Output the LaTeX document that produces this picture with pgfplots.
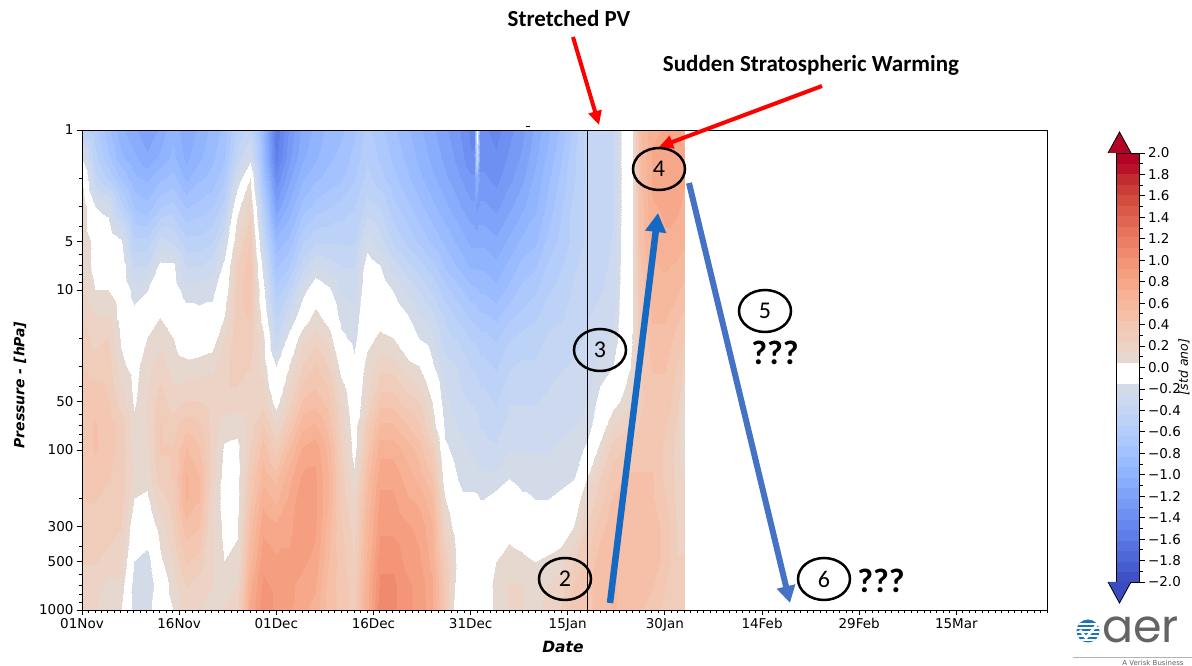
\documentclass[border=0pt]{standalone}
\usepackage{pgfplots}
\pgfplotsset{compat=1.18}
\usepackage{fontspec}
\setmainfont{DejaVu Sans}
\newfontfamily\calfont{Carlito}
\newfontfamily\popfont{Poppins}
\usetikzlibrary{arrows.meta}
\definecolor{upblue}{RGB}{21,105,195}
\definecolor{dnblue}{RGB}{68,114,196}
\definecolor{cbtop}{RGB}{180,4,38}
\definecolor{cbbot}{RGB}{59,76,192}
\definecolor{logoblue}{RGB}{30,115,185}
\definecolor{aergray}{RGB}{100,100,100}
\begin{document}
\begin{tikzpicture}[x=1pt,y=1pt]
\useasboundingbox (0,0) rectangle (1192,666);
\begin{axis}[
  at={(82pt,56pt)}, anchor=south west,
  width=965pt, height=480pt, scale only axis,
  xmin=0, xmax=149, ymin=1, ymax=1000,
  ymode=log, y dir=reverse,
  axis on top,
  xtick={0,15,30,45,60,75,90,105,120,135},
  xticklabels={01Nov,16Nov,01Dec,16Dec,31Dec,15Jan,30Jan,14Feb,29Feb,15Mar},
  minor xtick={0,1,...,149},
  ytick={1,5,10,50,100,300,500,1000},
  yticklabels={1,5,10,50,100,300,500,1000},
  minor ytick={2,3,4,6,7,8,9,20,30,40,60,70,80,90,200,400,600,700,800,900},
  tick pos=left, tick align=outside,
  major tick length=5pt, minor tick length=3pt,
  tick style={black, line width=0.9pt},
  axis line style={line width=0.9pt},
  ticklabel style={font=\fontsize{13.5}{15}\selectfont},
  colormap={cw}{rgb255=(63,82,197) rgb255=(70,93,206) rgb255=(77,104,215) rgb255=(85,114,223) rgb255=(94,125,230) rgb255=(102,135,237) rgb255=(110,144,242) rgb255=(119,154,247) rgb255=(128,163,250) rgb255=(137,172,253) rgb255=(145,180,254) rgb255=(154,187,255) rgb255=(163,194,255) rgb255=(172,200,253) rgb255=(180,205,251) rgb255=(188,210,247) rgb255=(196,214,243) rgb255=(204,217,238) rgb255=(211,219,232) rgb255=(255,255,255) rgb255=(255,255,255) rgb255=(230,215,207) rgb255=(236,211,197) rgb255=(240,205,187) rgb255=(243,199,178) rgb255=(246,192,168) rgb255=(247,185,158) rgb255=(247,177,148) rgb255=(247,168,138) rgb255=(245,159,128) rgb255=(243,149,118) rgb255=(240,138,109) rgb255=(236,127,99) rgb255=(230,115,90) rgb255=(225,102,81) rgb255=(218,90,73) rgb255=(211,76,64) rgb255=(203,62,56) rgb255=(194,44,49) rgb255=(185,18,42) rgb255=(180,4,38)},
  colormap access=piecewise constant,
  point meta min=-2, point meta max=2,
  colorbar,
  colorbar style={
    at={(parent axis.north east)}, anchor=north west,
    xshift=61pt, yshift=-23pt,
    width=23pt, height=429pt, scale only axis,
    y dir=normal,
    xtick=\empty,
    ytick={-2,-1.8,-1.6,-1.4,-1.2,-1,-0.8,-0.6,-0.4,-0.2,0,0.2,0.4,0.6,0.8,1,1.2,1.4,1.6,1.8,2},
    yticklabels={−2.0,−1.8,−1.6,−1.4,−1.2,−1.0,−0.8,−0.6,−0.4,−0.2,0.0,0.2,0.4,0.6,0.8,1.0,1.2,1.4,1.6,1.8,2.0},
    minor ytick={-1.9,-1.7,-1.5,-1.3,-1.1,-0.9,-0.7,-0.5,-0.3,-0.1,0.1,0.3,0.5,0.7,0.9,1.1,1.3,1.5,1.7,1.9},
    ytick pos=right, yticklabel pos=right,
    tick align=outside, major tick length=5pt, minor tick length=3pt,
    tick style={black, line width=0.8pt},
    axis line style={line width=0.8pt},
    yticklabel style={font=\fontsize{13.5}{15}\selectfont},
  },
]
\addplot[surf, shader=interp, mesh/ordering=y varies, mesh/rows=19, mesh/cols=52, point meta=explicit] coordinates {
(0,1)[-0.5] (0,1.5)[-0.15] (0,2)[0.05] (0,3)[0.15] (0,5)[0.15] (0,7)[0.15] (0,10)[0.18] (0,15)[0.25] (0,20)[0.3] (0,30)[0.35] (0,50)[0.4] (0,70)[0.4] (0,100)[0.4] (0,150)[0.35] (0,200)[0.35] (0,300)[0.3] (0,500)[0.25] (0,700)[0.2] (0,1000)[0.15]
(2,1)[-0.6] (2,1.5)[-0.5] (2,2)[-0.4] (2,3)[-0.15] (2,5)[0] (2,7)[0] (2,10)[0.05] (2,15)[0.15] (2,20)[0.2] (2,30)[0.3] (2,50)[0.4] (2,70)[0.45] (2,100)[0.45] (2,150)[0.4] (2,200)[0.35] (2,300)[0.3] (2,500)[0.25] (2,700)[0.2] (2,1000)[0.15]
(4,1)[-0.8] (4,1.5)[-0.7] (4,2)[-0.55] (4,3)[-0.2] (4,5)[-0.02] (4,7)[0] (4,10)[0.05] (4,15)[0.15] (4,20)[0.25] (4,30)[0.3] (4,50)[0.35] (4,70)[0.4] (4,100)[0.4] (4,150)[0.35] (4,200)[0.3] (4,300)[0.3] (4,500)[0.2] (4,700)[0.12] (4,1000)[0.05]
(6,1)[-1.0] (6,1.5)[-0.9] (6,2)[-0.75] (6,3)[-0.5] (6,5)[-0.12] (6,7)[-0.05] (6,10)[-0.02] (6,15)[0] (6,20)[0.03] (6,30)[0.08] (6,50)[0.2] (6,70)[0.3] (6,100)[0.3] (6,150)[0.3] (6,200)[0.3] (6,300)[0.25] (6,500)[0.2] (6,700)[0.12] (6,1000)[0.05]
(8,1)[-1.1] (8,1.5)[-1.0] (8,2)[-0.9] (8,3)[-0.75] (8,5)[-0.5] (8,7)[-0.35] (8,10)[-0.2] (8,15)[-0.1] (8,20)[-0.05] (8,30)[0] (8,50)[0.03] (8,70)[0.08] (8,100)[0.12] (8,150)[0.12] (8,200)[0.05] (8,300)[-0.05] (8,500)[-0.15] (8,700)[-0.2] (8,1000)[-0.2]
(10,1)[-1.2] (10,1.5)[-1.1] (10,2)[-0.95] (10,3)[-0.8] (10,5)[-0.5] (10,7)[-0.35] (10,10)[-0.15] (10,15)[-0.05] (10,20)[0.05] (10,30)[0.12] (10,50)[0.15] (10,70)[0.15] (10,100)[0.12] (10,150)[0.08] (10,200)[0.03] (10,300)[-0.05] (10,500)[-0.2] (10,700)[-0.25] (10,1000)[-0.2]
(12,1)[-1.1] (12,1.5)[-1.0] (12,2)[-0.85] (12,3)[-0.65] (12,5)[-0.3] (12,7)[-0.12] (12,10)[-0.02] (12,15)[0.05] (12,20)[0.1] (12,30)[0.2] (12,50)[0.3] (12,70)[0.35] (12,100)[0.35] (12,150)[0.3] (12,200)[0.2] (12,300)[0.1] (12,500)[0.02] (12,700)[-0.05] (12,1000)[-0.05]
(14,1)[-0.95] (14,1.5)[-0.9] (14,2)[-0.8] (14,3)[-0.6] (14,5)[-0.35] (14,7)[-0.12] (14,10)[-0.08] (14,15)[0] (14,20)[0.05] (14,30)[0.1] (14,50)[0.2] (14,70)[0.3] (14,100)[0.35] (14,150)[0.35] (14,200)[0.3] (14,300)[0.25] (14,500)[0.15] (14,700)[0.1] (14,1000)[0.05]
(16,1)[-1.1] (16,1.5)[-1.05] (16,2)[-0.95] (16,3)[-0.75] (16,5)[-0.5] (16,7)[-0.35] (16,10)[-0.2] (16,15)[-0.08] (16,20)[-0.03] (16,30)[0.08] (16,50)[0.25] (16,70)[0.4] (16,100)[0.55] (16,150)[0.65] (16,200)[0.65] (16,300)[0.5] (16,500)[0.35] (16,700)[0.25] (16,1000)[0.2]
(18,1)[-1.0] (18,1.5)[-0.95] (18,2)[-0.85] (18,3)[-0.7] (18,5)[-0.5] (18,7)[-0.35] (18,10)[-0.2] (18,15)[-0.1] (18,20)[-0.05] (18,30)[0.1] (18,50)[0.25] (18,70)[0.35] (18,100)[0.45] (18,150)[0.55] (18,200)[0.55] (18,300)[0.45] (18,500)[0.3] (18,700)[0.2] (18,1000)[0.15]
(20,1)[-0.9] (20,1.5)[-0.85] (20,2)[-0.8] (20,3)[-0.65] (20,5)[-0.45] (20,7)[-0.3] (20,10)[-0.18] (20,15)[-0.1] (20,20)[-0.02] (20,30)[0.12] (20,50)[0.2] (20,70)[0.2] (20,100)[0.2] (20,150)[0.2] (20,200)[0.15] (20,300)[0.15] (20,500)[0.15] (20,700)[0.15] (20,1000)[0.12]
(22,1)[-0.8] (22,1.5)[-0.75] (22,2)[-0.65] (22,3)[-0.5] (22,5)[-0.25] (22,7)[-0.12] (22,10)[-0.05] (22,15)[0.05] (22,20)[0.15] (22,30)[0.2] (22,50)[0.2] (22,70)[0.1] (22,100)[0.03] (22,150)[0] (22,200)[0] (22,300)[0.02] (22,500)[0.05] (22,700)[0.12] (22,1000)[0.15]
(24,1)[-0.5] (24,1.5)[-0.4] (24,2)[-0.25] (24,3)[0] (24,5)[0.15] (24,7)[0.25] (24,10)[0.3] (24,15)[0.3] (24,20)[0.3] (24,30)[0.3] (24,50)[0.2] (24,70)[0.08] (24,100)[0.02] (24,150)[0] (24,200)[0] (24,300)[0.03] (24,500)[0.08] (24,700)[0.15] (24,1000)[0.2]
(26,1)[-0.4] (26,1.5)[-0.2] (26,2)[0.05] (26,3)[0.2] (26,5)[0.35] (26,7)[0.4] (26,10)[0.4] (26,15)[0.35] (26,20)[0.3] (26,30)[0.25] (26,50)[0.2] (26,70)[0.2] (26,100)[0.25] (26,150)[0.35] (26,200)[0.4] (26,300)[0.5] (26,500)[0.6] (26,700)[0.7] (26,1000)[0.75]
(28,1)[-0.9] (28,1.5)[-0.85] (28,2)[-0.75] (28,3)[-0.55] (28,5)[-0.35] (28,7)[-0.2] (28,10)[-0.1] (28,15)[0] (28,20)[0.08] (28,30)[0.12] (28,50)[0.2] (28,70)[0.35] (28,100)[0.5] (28,150)[0.6] (28,200)[0.7] (28,300)[0.8] (28,500)[0.9] (28,700)[0.95] (28,1000)[1.0]
(30,1)[-1.6] (30,1.5)[-1.55] (30,2)[-1.4] (30,3)[-1.2] (30,5)[-0.9] (30,7)[-0.75] (30,10)[-0.6] (30,15)[-0.45] (30,20)[-0.35] (30,30)[-0.15] (30,50)[0] (30,70)[0.15] (30,100)[0.3] (30,150)[0.5] (30,200)[0.6] (30,300)[0.75] (30,500)[0.85] (30,700)[0.9] (30,1000)[0.9]
(32,1)[-1.3] (32,1.5)[-1.25] (32,2)[-1.15] (32,3)[-1.0] (32,5)[-0.8] (32,7)[-0.65] (32,10)[-0.45] (32,15)[-0.25] (32,20)[-0.1] (32,30)[0.05] (32,50)[0.2] (32,70)[0.35] (32,100)[0.55] (32,150)[0.7] (32,200)[0.75] (32,300)[0.8] (32,500)[0.85] (32,700)[0.85] (32,1000)[0.85]
(34,1)[-1.1] (34,1.5)[-1.05] (34,2)[-0.95] (34,3)[-0.8] (34,5)[-0.55] (34,7)[-0.4] (34,10)[-0.2] (34,15)[-0.05] (34,20)[0.12] (34,30)[0.25] (34,50)[0.45] (34,70)[0.6] (34,100)[0.75] (34,150)[0.85] (34,200)[0.9] (34,300)[0.9] (34,500)[0.85] (34,700)[0.8] (34,1000)[0.75]
(36,1)[-1.0] (36,1.5)[-0.95] (36,2)[-0.85] (36,3)[-0.7] (36,5)[-0.45] (36,7)[-0.25] (36,10)[-0.05] (36,15)[0.1] (36,20)[0.2] (36,30)[0.35] (36,50)[0.5] (36,70)[0.65] (36,100)[0.8] (36,150)[0.85] (36,200)[0.85] (36,300)[0.85] (36,500)[0.8] (36,700)[0.75] (36,1000)[0.7]
(38,1)[-0.9] (38,1.5)[-0.85] (38,2)[-0.8] (38,3)[-0.65] (38,5)[-0.45] (38,7)[-0.3] (38,10)[-0.12] (38,15)[0] (38,20)[0.12] (38,30)[0.25] (38,50)[0.4] (38,70)[0.5] (38,100)[0.6] (38,150)[0.65] (38,200)[0.65] (38,300)[0.6] (38,500)[0.55] (38,700)[0.5] (38,1000)[0.5]
(40,1)[-0.85] (40,1.5)[-0.8] (40,2)[-0.75] (40,3)[-0.6] (40,5)[-0.45] (40,7)[-0.35] (40,10)[-0.25] (40,15)[-0.18] (40,20)[-0.12] (40,30)[0] (40,50)[0.15] (40,70)[0.2] (40,100)[0.25] (40,150)[0.3] (40,200)[0.3] (40,300)[0.35] (40,500)[0.4] (40,700)[0.4] (40,1000)[0.4]
(42,1)[-0.75] (42,1.5)[-0.7] (42,2)[-0.65] (42,3)[-0.55] (42,5)[-0.45] (42,7)[-0.35] (42,10)[-0.28] (42,15)[-0.22] (42,20)[-0.18] (42,30)[-0.12] (42,50)[-0.05] (42,70)[-0.02] (42,100)[0] (42,150)[0.08] (42,200)[0.15] (42,300)[0.2] (42,500)[0.25] (42,700)[0.3] (42,1000)[0.3]
(44,1)[-0.6] (44,1.5)[-0.55] (44,2)[-0.5] (44,3)[-0.4] (44,5)[-0.2] (44,7)[-0.08] (44,10)[-0.05] (44,15)[-0.02] (44,20)[0] (44,30)[0.1] (44,50)[0.15] (44,70)[0.3] (44,100)[0.4] (44,150)[0.5] (44,200)[0.55] (44,300)[0.6] (44,500)[0.65] (44,700)[0.7] (44,1000)[0.7]
(46,1)[-0.7] (46,1.5)[-0.65] (46,2)[-0.6] (46,3)[-0.45] (46,5)[-0.3] (46,7)[-0.15] (46,10)[-0.05] (46,15)[0] (46,20)[0.08] (46,30)[0.2] (46,50)[0.4] (46,70)[0.55] (46,100)[0.7] (46,150)[0.8] (46,200)[0.85] (46,300)[0.9] (46,500)[1.0] (46,700)[1.05] (46,1000)[1.1]
(48,1)[-0.8] (48,1.5)[-0.75] (48,2)[-0.7] (48,3)[-0.6] (48,5)[-0.45] (48,7)[-0.3] (48,10)[-0.15] (48,15)[-0.05] (48,20)[0.05] (48,30)[0.2] (48,50)[0.4] (48,70)[0.55] (48,100)[0.7] (48,150)[0.8] (48,200)[0.85] (48,300)[0.9] (48,500)[1.0] (48,700)[1.05] (48,1000)[1.05]
(50,1)[-0.9] (50,1.5)[-0.85] (50,2)[-0.8] (50,3)[-0.7] (50,5)[-0.55] (50,7)[-0.4] (50,10)[-0.25] (50,15)[-0.12] (50,20)[-0.05] (50,30)[0.1] (50,50)[0.3] (50,70)[0.45] (50,100)[0.6] (50,150)[0.7] (50,200)[0.75] (50,300)[0.85] (50,500)[0.9] (50,700)[0.95] (50,1000)[0.95]
(52,1)[-1.0] (52,1.5)[-0.95] (52,2)[-0.9] (52,3)[-0.8] (52,5)[-0.65] (52,7)[-0.5] (52,10)[-0.35] (52,15)[-0.22] (52,20)[-0.15] (52,30)[0.05] (52,50)[0.25] (52,70)[0.35] (52,100)[0.5] (52,150)[0.6] (52,200)[0.7] (52,300)[0.8] (52,500)[0.85] (52,700)[0.9] (52,1000)[0.9]
(54,1)[-1.1] (54,1.5)[-1.05] (54,2)[-1.0] (54,3)[-0.9] (54,5)[-0.75] (54,7)[-0.6] (54,10)[-0.45] (54,15)[-0.3] (54,20)[-0.22] (54,30)[-0.12] (54,50)[0.05] (54,70)[0.12] (54,100)[0.3] (54,150)[0.45] (54,200)[0.55] (54,300)[0.65] (54,500)[0.7] (54,700)[0.75] (54,1000)[0.75]
(56,1)[-1.2] (56,1.5)[-1.15] (56,2)[-1.1] (56,3)[-1.0] (56,5)[-0.85] (56,7)[-0.75] (56,10)[-0.6] (56,15)[-0.45] (56,20)[-0.4] (56,30)[-0.3] (56,50)[-0.22] (56,70)[-0.18] (56,100)[-0.12] (56,150)[-0.05] (56,200)[0.05] (56,300)[0.15] (56,500)[0.3] (56,700)[0.35] (56,1000)[0.35]
(58,1)[-1.3] (58,1.5)[-1.25] (58,2)[-1.2] (58,3)[-1.1] (58,5)[-0.95] (58,7)[-0.85] (58,10)[-0.7] (58,15)[-0.55] (58,20)[-0.45] (58,30)[-0.35] (58,50)[-0.3] (58,70)[-0.25] (58,100)[-0.2] (58,150)[-0.15] (58,200)[-0.12] (58,300)[-0.05] (58,500)[0] (58,700)[-0.05] (58,1000)[-0.15]
(60,1)[-1.45] (60,1.5)[-1.4] (60,2)[-1.3] (60,3)[-1.2] (60,5)[-1.05] (60,7)[-0.95] (60,10)[-0.8] (60,15)[-0.65] (60,20)[-0.55] (60,30)[-0.45] (60,50)[-0.35] (60,70)[-0.3] (60,100)[-0.25] (60,150)[-0.2] (60,200)[-0.12] (60,300)[-0.05] (60,500)[0] (60,700)[-0.05] (60,1000)[-0.12]
(60.6,1)[-1.45] (60.6,1.5)[-1.4] (60.6,2)[-1.3] (60.6,3)[-1.2] (60.6,5)[-1.05] (60.6,7)[-0.95] (60.6,10)[-0.8] (60.6,15)[-0.65] (60.6,20)[-0.55] (60.6,30)[-0.45] (60.6,50)[-0.35] (60.6,70)[-0.3] (60.6,100)[-0.25] (60.6,150)[-0.2] (60.6,200)[-0.12] (60.6,300)[-0.05] (60.6,500)[0] (60.6,700)[-0.05] (60.6,1000)[-0.12]
(61,1)[0] (61,1.5)[-0.3] (61,2)[-1.0] (61,3)[-1.25] (61,5)[-1.05] (61,7)[-0.95] (61,10)[-0.82] (61,15)[-0.68] (61,20)[-0.57] (61,30)[-0.47] (61,50)[-0.37] (61,70)[-0.32] (61,100)[-0.27] (61,150)[-0.21] (61,200)[-0.13] (61,300)[-0.05] (61,500)[0] (61,700)[-0.06] (61,1000)[-0.12]
(61.4,1)[-1.4] (61.4,1.5)[-1.35] (61.4,2)[-1.3] (61.4,3)[-1.2] (61.4,5)[-1.05] (61.4,7)[-0.95] (61.4,10)[-0.85] (61.4,15)[-0.7] (61.4,20)[-0.6] (61.4,30)[-0.5] (61.4,50)[-0.4] (61.4,70)[-0.35] (61.4,100)[-0.3] (61.4,150)[-0.22] (61.4,200)[-0.15] (61.4,300)[-0.05] (61.4,500)[-0.02] (61.4,700)[-0.08] (61.4,1000)[-0.12]
(62,1)[-1.4] (62,1.5)[-1.35] (62,2)[-1.3] (62,3)[-1.2] (62,5)[-1.05] (62,7)[-0.95] (62,10)[-0.85] (62,15)[-0.7] (62,20)[-0.6] (62,30)[-0.5] (62,50)[-0.4] (62,70)[-0.35] (62,100)[-0.3] (62,150)[-0.22] (62,200)[-0.15] (62,300)[-0.05] (62,500)[-0.02] (62,700)[-0.08] (62,1000)[-0.12]
(64,1)[-1.45] (64,1.5)[-1.4] (64,2)[-1.35] (64,3)[-1.25] (64,5)[-1.1] (64,7)[-1.0] (64,10)[-0.9] (64,15)[-0.75] (64,20)[-0.65] (64,30)[-0.55] (64,50)[-0.45] (64,70)[-0.4] (64,100)[-0.32] (64,150)[-0.22] (64,200)[-0.1] (64,300)[-0.02] (64,500)[0.05] (64,700)[0.12] (64,1000)[0.12]
(66,1)[-1.35] (66,1.5)[-1.3] (66,2)[-1.25] (66,3)[-1.15] (66,5)[-1.0] (66,7)[-0.9] (66,10)[-0.8] (66,15)[-0.65] (66,20)[-0.55] (66,30)[-0.45] (66,50)[-0.35] (66,70)[-0.3] (66,100)[-0.25] (66,150)[-0.15] (66,200)[-0.05] (66,300)[0] (66,500)[0.1] (66,700)[0.15] (66,1000)[0.15]
(68,1)[-1.25] (68,1.5)[-1.2] (68,2)[-1.15] (68,3)[-1.05] (68,5)[-0.9] (68,7)[-0.8] (68,10)[-0.7] (68,15)[-0.6] (68,20)[-0.5] (68,30)[-0.42] (68,50)[-0.35] (68,70)[-0.3] (68,100)[-0.25] (68,150)[-0.2] (68,200)[-0.12] (68,300)[-0.03] (68,500)[0.08] (68,700)[0.15] (68,1000)[0.15]
(70,1)[-1.1] (70,1.5)[-1.05] (70,2)[-1.0] (70,3)[-0.95] (70,5)[-0.85] (70,7)[-0.75] (70,10)[-0.65] (70,15)[-0.55] (70,20)[-0.5] (70,30)[-0.42] (70,50)[-0.35] (70,70)[-0.3] (70,100)[-0.25] (70,150)[-0.2] (70,200)[-0.15] (70,300)[-0.08] (70,500)[0.05] (70,700)[0.12] (70,1000)[0.12]
(72,1)[-0.95] (72,1.5)[-0.9] (72,2)[-0.85] (72,3)[-0.8] (72,5)[-0.7] (72,7)[-0.62] (72,10)[-0.55] (72,15)[-0.48] (72,20)[-0.42] (72,30)[-0.38] (72,50)[-0.32] (72,70)[-0.28] (72,100)[-0.25] (72,150)[-0.2] (72,200)[-0.15] (72,300)[-0.08] (72,500)[0.08] (72,700)[0.15] (72,1000)[0.2]
(74,1)[-0.8] (74,1.5)[-0.75] (74,2)[-0.7] (74,3)[-0.65] (74,5)[-0.6] (74,7)[-0.55] (74,10)[-0.5] (74,15)[-0.45] (74,20)[-0.4] (74,30)[-0.35] (74,50)[-0.3] (74,70)[-0.27] (74,100)[-0.22] (74,150)[-0.18] (74,200)[-0.12] (74,300)[-0.05] (74,500)[0.12] (74,700)[0.2] (74,1000)[0.25]
(76,1)[-0.6] (76,1.5)[-0.55] (76,2)[-0.55] (76,3)[-0.5] (76,5)[-0.5] (76,7)[-0.45] (76,10)[-0.42] (76,15)[-0.4] (76,20)[-0.37] (76,30)[-0.33] (76,50)[-0.28] (76,70)[-0.25] (76,100)[-0.2] (76,150)[-0.15] (76,200)[-0.05] (76,300)[0.05] (76,500)[0.25] (76,700)[0.35] (76,1000)[0.4]
(78,1)[-0.4] (78,1.5)[-0.4] (78,2)[-0.42] (78,3)[-0.42] (78,5)[-0.42] (78,7)[-0.4] (78,10)[-0.38] (78,15)[-0.35] (78,20)[-0.33] (78,30)[-0.3] (78,50)[-0.25] (78,70)[-0.2] (78,100)[-0.12] (78,150)[0.05] (78,200)[0.15] (78,300)[0.25] (78,500)[0.35] (78,700)[0.4] (78,1000)[0.4]
(80,1)[-0.4] (80,1.5)[-0.42] (80,2)[-0.42] (80,3)[-0.42] (80,5)[-0.4] (80,7)[-0.38] (80,10)[-0.35] (80,15)[-0.3] (80,20)[-0.28] (80,30)[-0.2] (80,50)[-0.1] (80,70)[-0.05] (80,100)[0.1] (80,150)[0.25] (80,200)[0.3] (80,300)[0.4] (80,500)[0.5] (80,700)[0.5] (80,1000)[0.5]
(82,1)[-0.35] (82,1.5)[-0.35] (82,2)[-0.35] (82,3)[-0.35] (82,5)[-0.33] (82,7)[-0.32] (82,10)[-0.3] (82,15)[-0.27] (82,20)[-0.23] (82,30)[-0.15] (82,50)[0] (82,70)[0.15] (82,100)[0.3] (82,150)[0.4] (82,200)[0.45] (82,300)[0.5] (82,500)[0.55] (82,700)[0.55] (82,1000)[0.55]
(84,1)[-0.02] (84,1.5)[-0.02] (84,2)[-0.02] (84,3)[-0.02] (84,5)[-0.02] (84,7)[-0.01] (84,10)[0] (84,15)[0] (84,20)[0] (84,30)[0] (84,50)[0.1] (84,70)[0.22] (84,100)[0.35] (84,150)[0.45] (84,200)[0.5] (84,300)[0.5] (84,500)[0.5] (84,700)[0.5] (84,1000)[0.5]
(85,1)[0.05] (85,1.5)[0.05] (85,2)[0.05] (85,3)[0.05] (85,5)[0.05] (85,7)[0.05] (85,10)[0.05] (85,15)[0.05] (85,20)[0.06] (85,30)[0.08] (85,50)[0.15] (85,70)[0.25] (85,100)[0.4] (85,150)[0.45] (85,200)[0.5] (85,300)[0.5] (85,500)[0.5] (85,700)[0.5] (85,1000)[0.5]
(86,1)[0.5] (86,1.5)[0.5] (86,2)[0.5] (86,3)[0.45] (86,5)[0.45] (86,7)[0.4] (86,10)[0.35] (86,15)[0.32] (86,20)[0.3] (86,30)[0.3] (86,50)[0.3] (86,70)[0.35] (86,100)[0.4] (86,150)[0.45] (86,200)[0.5] (86,300)[0.5] (86,500)[0.5] (86,700)[0.5] (86,1000)[0.45]
(88,1)[0.7] (88,1.5)[0.75] (88,2)[0.75] (88,3)[0.72] (88,5)[0.68] (88,7)[0.62] (88,10)[0.58] (88,15)[0.55] (88,20)[0.5] (88,30)[0.45] (88,50)[0.4] (88,70)[0.4] (88,100)[0.4] (88,150)[0.45] (88,200)[0.45] (88,300)[0.5] (88,500)[0.5] (88,700)[0.45] (88,1000)[0.4]
(90,1)[0.75] (90,1.5)[0.8] (90,2)[0.8] (90,3)[0.75] (90,5)[0.72] (90,7)[0.65] (90,10)[0.6] (90,15)[0.55] (90,20)[0.5] (90,30)[0.45] (90,50)[0.4] (90,70)[0.35] (90,100)[0.32] (90,150)[0.32] (90,200)[0.35] (90,300)[0.4] (90,500)[0.4] (90,700)[0.35] (90,1000)[0.3]
(92,1)[0.75] (92,1.5)[0.8] (92,2)[0.8] (92,3)[0.75] (92,5)[0.68] (92,7)[0.62] (92,10)[0.55] (92,15)[0.45] (92,20)[0.4] (92,30)[0.32] (92,50)[0.28] (92,70)[0.22] (92,100)[0.2] (92,150)[0.2] (92,200)[0.2] (92,300)[0.22] (92,500)[0.25] (92,700)[0.25] (92,1000)[0.25]
(93,1)[0.7] (93,1.5)[0.75] (93,2)[0.75] (93,3)[0.7] (93,5)[0.65] (93,7)[0.6] (93,10)[0.5] (93,15)[0.42] (93,20)[0.35] (93,30)[0.22] (93,50)[0.05] (93,70)[0.05] (93,100)[0.05] (93,150)[0.15] (93,200)[0.2] (93,300)[0.22] (93,500)[0.25] (93,700)[0.25] (93,1000)[0.25]
};
\addplot[black, line width=1pt] coordinates {(78,1) (78,1000)};
\end{axis}
% colorbar extensions
\fill[cbtop] (1108,513) -- (1119.5,534) -- (1131,513) -- cycle;
\draw[line width=0.8pt] (1108,513) -- (1119.5,534) -- (1131,513);
\fill[cbbot] (1108,84) -- (1119.5,63) -- (1131,84) -- cycle;
\draw[line width=0.8pt] (1108,84) -- (1119.5,63) -- (1131,84);
\node[rotate=90, font=\itshape\fontsize{12.5}{14}\selectfont] at (1184,299) {[std ano]};
% axis labels
\node[anchor=base, font=\bfseries\itshape\fontsize{15.5}{17}\selectfont] at (563,13) {Date};
\node[rotate=90, font=\bfseries\itshape\fontsize{14}{16}\selectfont] at (20,281) {Pressure - [hPa]};
\draw[line width=0.8pt] (526,540) -- (530,540);
% annotations
\node[anchor=base, font=\calfont\bfseries\fontsize{23}{26}\selectfont] at (569,639) {Stretched PV};
\node[anchor=base, font=\calfont\bfseries\fontsize{23}{26}\selectfont] at (811,594) {Sudden Stratospheric Warming};
\draw[red, line width=4pt, -{Triangle[length=14pt,width=13pt]}] (573,629) -- (599,541);
\draw[red, line width=4pt, -{Triangle[length=14pt,width=13pt]}] (822,580) -- (659,519);
\draw[upblue, line width=6.5pt, -{Triangle[length=19pt,width=20pt]}] (610,63) -- (658,453);
\draw[dnblue, line width=6pt, -{Triangle[length=17pt,width=18pt]}] (689,483) -- (790,63);
\foreach \cx/\cy/\n in {659/497/4, 600/316/3, 565/87/2, 765/355/5, 824/87/6}{
  \draw[line width=2.5pt] (\cx,\cy) ellipse [x radius=26pt, y radius=21pt];
  \node[font=\calfont\fontsize{24}{26}\selectfont] at (\cx,\cy) {\n};
}
\node[font=\calfont\bfseries\fontsize{34}{36}\selectfont] at (775,313) {???};
\node[font=\calfont\bfseries\fontsize{34}{36}\selectfont] at (881,85) {???};
% logo
\fill[logoblue] (1088,35) circle (11.5);
\begin{scope}
\clip (1088,35) circle (11.5);
\foreach \yy in {26,30,34,38,42}{\draw[white, line width=1.1pt] (1075,\yy) -- (1101,\yy);}
\end{scope}
\draw[white, line width=2.6pt] (1080,36) -- (1086,28) -- (1099,44);
\node[anchor=base west, text=aergray, inner sep=0pt, font=\popfont\fontsize{46}{48}\selectfont] at (1102,23) {aer};
\draw[gray!60, line width=0.7pt] (1073,9) -- (1192,9);
\node[anchor=north, text=aergray, inner sep=0pt, font=\fontsize{7}{8}\selectfont] at (1153,6) {A Verisk Business};
\end{tikzpicture}
\end{document}
